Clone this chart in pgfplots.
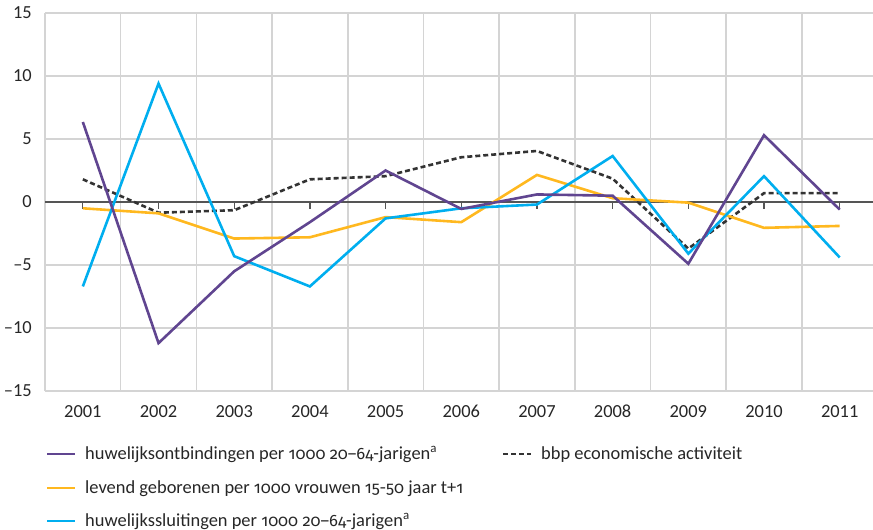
\documentclass[border=0pt]{standalone}
\usepackage{pgfplots}
\pgfplotsset{compat=1.18}
\usepackage{fontspec}
\setmainfont{Carlito}
\newfontfamily\onum[Numbers=OldStyle]{Fira Sans}
\newcommand{\od}[1]{{\onum\fontsize{16.5}{18}\selectfont #1}}
\definecolor{cpurple}{HTML}{604590}
\definecolor{ccyan}{HTML}{00AEEF}
\definecolor{cyellow}{HTML}{FFB81F}
\definecolor{cdark}{HTML}{333333}
\definecolor{cgrid}{HTML}{D4D4D4}
\definecolor{czero}{HTML}{555555}
\begin{document}
\begin{tikzpicture}
\path[use as bounding box] (-45bp,-139bp) rectangle (828bp,391bp);
\begin{axis}[
  at={(0,0)}, anchor=south west,
  scale only axis, width=828bp, height=378bp,
  xmin=0.5, xmax=11.44, ymin=-15, ymax=15,
  xtick={1,2,3,4,5,6,7,8,9,10,11},
  xticklabels={2001,2002,2003,2004,2005,2006,2007,2008,2009,2010,2011},
  minor xtick={0.5,1.5,2.5,3.5,4.5,5.5,6.5,7.5,8.5,9.5,10.5},
  xminorgrids,
  ytick={-15,-10,-5,0,5,10,15},
  yticklabels={–15,–10,–5,0,5,10,15},
  ymajorgrids,
  grid style={cgrid, line width=1.6bp},
  minor grid style={cgrid, line width=1.6bp},
  axis line style={draw=none},
  major tick length=0pt, minor tick length=0pt,
  tick label style={font=\fontsize{18.5}{21}\selectfont, text=black!85, inner sep=0pt},
  yticklabel style={anchor=east, xshift=-13bp},
  xticklabel style={anchor=north, yshift=-14bp},
  clip=false,
]
\draw[czero, line width=1.4bp] (axis cs:0.5,0) -- (axis cs:11.44,0);
\pgfplotsinvokeforeach{1,2,3,4,5,6,7,8,9,10,11}{
  \draw[czero, line width=1.2bp] (axis cs:#1,0) -- ([yshift=-7bp]axis cs:#1,0);
}
\addplot[cdark, line width=2.6bp, dash pattern=on 5bp off 3bp, no marks, sharp plot] coordinates {
(1,1.8) (2,-0.85) (3,-0.65) (4,1.8) (5,2.05) (6,3.55) (7,4.05) (8,1.85) (9,-3.7) (10,0.7) (11,0.7)};
\addplot[cyellow, line width=2.6bp, no marks, sharp plot, line join=miter] coordinates {
(1,-0.5) (2,-0.9) (3,-2.9) (4,-2.8) (5,-1.2) (6,-1.6) (7,2.15) (8,0.3) (9,-0.05) (10,-2.05) (11,-1.9)};
\addplot[ccyan, line width=2.6bp, no marks, sharp plot, line join=miter] coordinates {
(1,-6.7) (2,9.4) (3,-4.3) (4,-6.7) (5,-1.3) (6,-0.5) (7,-0.2) (8,3.65) (9,-4.1) (10,2.05) (11,-4.4)};
\addplot[cpurple, line width=2.6bp, no marks, sharp plot, line join=miter] coordinates {
(1,6.35) (2,-11.2) (3,-5.5) (4,-1.6) (5,2.5) (6,-0.55) (7,0.6) (8,0.5) (9,-4.9) (10,5.3) (11,-0.6)};
\end{axis}
% legend
\begin{scope}[every node/.style={anchor=base west, inner sep=0pt, font=\fontsize{18.5}{21}\selectfont, text=black!85}]
\draw[cpurple, line width=2.8bp] (2bp,-63bp) -- (30bp,-63bp);
\node at (40bp,-68bp) {huwelijksontbindingen per \od{1000 20–64}-jarigen\textsuperscript{a}};
\draw[cdark, line width=2.8bp, dash pattern=on 5bp off 3bp] (458bp,-63bp) -- (486bp,-63bp);
\node at (496bp,-68bp) {bbp economische activiteit};
\draw[cyellow, line width=2.8bp] (2bp,-97bp) -- (30bp,-97bp);
\node at (40bp,-102bp) {levend geborenen per \od{1000} vrouwen \od{15-50} jaar t+\od{1}};
\draw[ccyan, line width=2.8bp] (2bp,-130bp) -- (30bp,-130bp);
\node at (40bp,-135bp) {huwelijkssluitingen per \od{1000 20–64}-jarigen\textsuperscript{a}};
\end{scope}
\end{tikzpicture}
\end{document}
